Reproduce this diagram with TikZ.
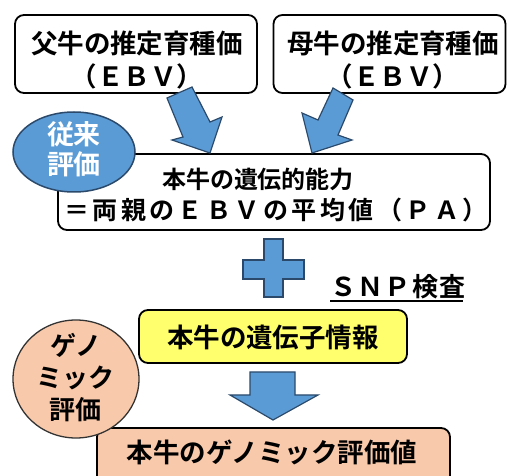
\documentclass[tikz,border=0pt]{standalone}
\usepackage{fontspec}
\usetikzlibrary{shapes.geometric}
\newfontfamily\jpb{Noto Sans CJK JP Bold}
\definecolor{arrowblue}{HTML}{5B9BD5}
\definecolor{arrowedge}{HTML}{2B4A6B}
\definecolor{boxyellow}{HTML}{FFFF6E}
\definecolor{peach}{HTML}{F8C9AA}
\begin{document}
\begin{tikzpicture}[x=1pt,y=-1pt,
  box/.style={draw=black, line width=1.8pt, rounded corners=9pt, fill=white, inner sep=0pt},
  blk/.style={fill=arrowblue, draw=arrowedge, line width=1.2pt, line join=miter},
  txt/.style={font=\jpb\fontsize{26.5}{33.5}\selectfont, inner sep=0pt, align=center}]
\useasboundingbox (0,0) rectangle (507,476);
\clip (0,0) rectangle (507,476);
\fill[white] (0,0) rectangle (507,476);
% boxes
\node[box, minimum width=242pt, minimum height=78pt] (fbox) at (136,54) {};
\node[box, minimum width=232pt, minimum height=78pt] (mbox) at (389.5,54) {};
\node[box, minimum width=432pt, minimum height=76pt] (pbox) at (274,192) {};
\node[box, fill=boxyellow, minimum width=268pt, minimum height=53pt] (gbox) at (273,336.5) {};
\node[box, fill=peach, minimum width=353pt, minimum height=62pt] (ebox) at (273.5,459) {};
% texts
\node[txt] (ft) at (137,60) {父牛の推定育種価\\（ＥＢＶ）};
\node[txt] (mt) at (393,60) {母牛の推定育種価\\（ＥＢＶ）};
\node[txt, font=\jpb\fontsize{24}{28}\selectfont] (p1) at (258,179) {本牛の遺伝的能力};
\node[txt, font=\jpb\fontsize{25}{28}\selectfont\addfontfeature{LetterSpace=14}] (p2) at (276,210) {＝両親のＥＢＶの平均値（ＰＡ）};
\node[txt] (gt) at (273,337) {本牛の遺伝子情報};
\node[txt] (et) at (272,452) {本牛のゲノミック評価値};
% arrows
\draw[blk] (167,98) -- (183,137) -- (172,140) -- (210,153) -- (222,117) -- (210,122) -- (192,87) -- cycle;
\draw[blk] (333,88) -- (318,120) -- (302,113) -- (312,153) -- (352,140) -- (338,135) -- (353,100) -- cycle;
\draw[blk] (264,239) -- (283,239) -- (283,260) -- (304,260) -- (304,279) -- (283,279) -- (283,297) -- (264,297) -- (264,279) -- (243,279) -- (243,260) -- (264,260) -- cycle;
\draw[blk] (250,372) -- (295,372) -- (295,395) -- (318,395) -- (273,420) -- (230,395) -- (250,395) -- cycle;
% SNP
\node[txt, font=\jpb\fontsize{26}{28}\selectfont\addfontfeature{LetterSpace=5}] (snp) at (398,287) {ＳＮＰ検査};
\coordinate (ul1) at (330,301);
\coordinate (ul2) at (463,301);
\draw[line width=1.2pt] (ul1) -- (ul2);
% ellipse and circle
\node[ellipse, minimum width=122pt, minimum height=80pt, fill=arrowblue, draw=arrowedge, line width=1.5pt, inner sep=0pt] (conv) at (74,152) {};
\node[txt, text=white, font=\jpb\fontsize{27}{30}\selectfont] (convt) at (74,149) {従来\\評価};
\node[ellipse, minimum width=126pt, minimum height=118pt, fill=peach, draw=black!80, line width=1.3pt, inner sep=0pt] (geno) at (76,379) {};
\node[txt, font=\jpb\fontsize{26}{32}\selectfont] (genot) at (76,378) {ゲノ\\ミック\\評価};
\end{tikzpicture}
\end{document}
